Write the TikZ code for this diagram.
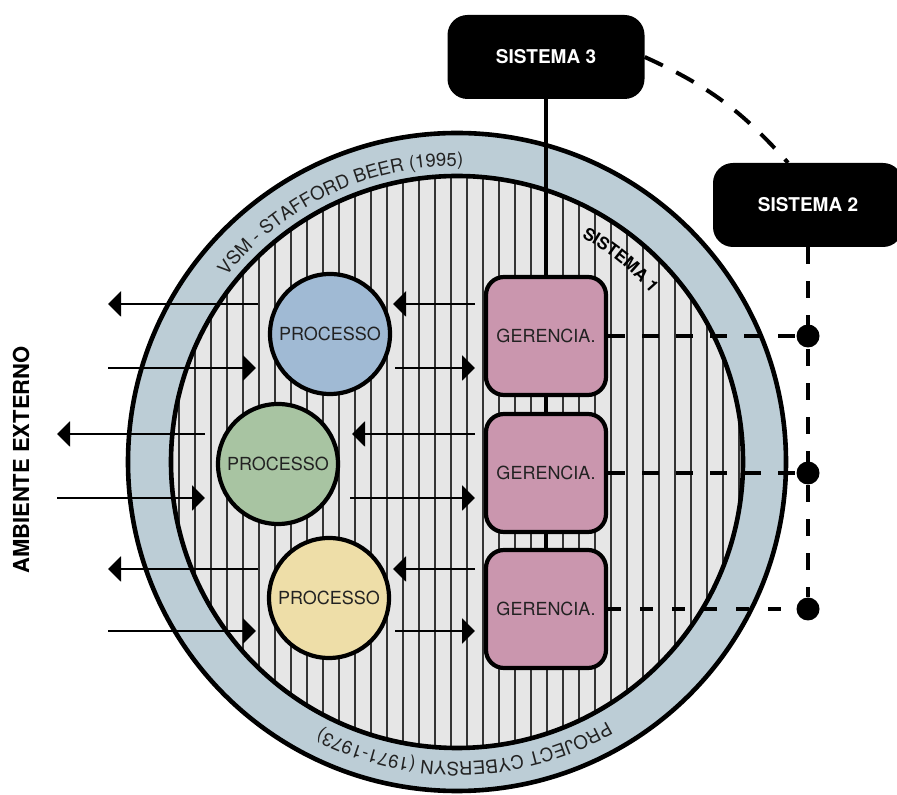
\documentclass[tikz,border=0pt]{standalone}
\usepackage{fontspec}
\setmainfont{TeX Gyre Heros}
\usetikzlibrary{arrows.meta,decorations.text}
\definecolor{ringblue}{RGB}{188,205,214}
\definecolor{field}{RGB}{230,230,230}
\definecolor{hatchgray}{RGB}{52,52,52}
\definecolor{procblue}{RGB}{160,186,212}
\definecolor{procgreen}{RGB}{168,196,162}
\definecolor{procyellow}{RGB}{238,222,168}
\definecolor{gerpink}{RGB}{202,150,174}
\definecolor{textgray}{RGB}{34,34,34}
\tikzset{
  proc/.style={circle, draw=black, fill=#1, line width=4.2pt, minimum size=120pt, inner sep=0pt,
    text=textgray, font=\fontsize{18}{18}\selectfont},
  ger/.style={draw=black, fill=gerpink, line width=4.2pt, rounded corners=18pt, inner sep=0pt,
    minimum width=120pt, minimum height=118pt, text=textgray, font=\fontsize{18}{18}\selectfont},
  sys/.style={fill=black, rounded corners=20pt, minimum width=#1, minimum height=84pt,
    text=white, font=\bfseries\fontsize{19}{19}\selectfont},
  tapdot/.style={circle, fill=black, minimum size=23pt, inner sep=0pt},
  arrow/.style={-{Triangle[length=13pt,width=25pt]}, line width=2.2pt},
  link/.style={line width=4pt, dash pattern=on 17pt off 17pt},
  hatch/.style={draw=hatchgray, line width=2pt}
}

\begin{document}
\begin{tikzpicture}[x=1pt, y=1pt]
  \useasboundingbox (0,0) rectangle (897,795);
  \coordinate (ctr) at (457,333);
  % ring and hatched field
  \fill[ringblue] (ctr) circle (329);
  \draw[line width=4.6pt] (ctr) circle (329);
  \fill[field] (ctr) circle (286);
  \begin{scope}
    \clip (ctr) circle (286);
    \foreach \x in {178.5,194.5,...,754.5} \draw[hatch] (\x,40) -- (\x,625);
  \end{scope}
  \draw[line width=4.6pt] (ctr) circle (286);
  % texts round the ring
  \path[decorate, decoration={text along path, text align=center,
    text={|\color{textgray}\fontsize{18.5}{18.5}\selectfont|VSM - STAFFORD BEER (1995)}}]
    ([shift={(150:296)}]ctr) arc[start angle=150, end angle=80, radius=296];
  \path[decorate, decoration={text along path, text align=center,
    text={|\color{textgray}\fontsize{18.5}{18.5}\selectfont|PROJECT CYBERSYN (1971-1973)}}]
    ([shift={(-50:300)}]ctr) arc[start angle=-50, end angle=-127, radius=300];
  \path[decorate, decoration={text along path, text align=center,
    text={|\bfseries\fontsize{17}{17}\selectfont|SISTEMA 1}}]
    ([shift={(76:257)}]ctr) arc[start angle=76, end angle=26, radius=257];

  \node[proc=procblue] (p1) at (330,461) {PROCESSO};
  \node[proc=procgreen] (p2) at (278,331) {PROCESSO};
  \node[proc=procyellow] (p3) at (329,197) {PROCESSO};
  \node[sys=197pt] (s3) at (546,738) {SISTEMA 3};
  \node[sys=190pt] (s2) at (808,590) {SISTEMA 2};
  \node[rotate=90, font=\bfseries\fontsize{22}{22}\selectfont] (amb) at (21,335) {AMBIENTE EXTERNO};

  \draw[line width=4pt] (s3.south) -- (546,520);
  \node[ger] (g1) at (546,459) {GERENCIA.};
  \node[ger] (g2) at (546,322) {GERENCIA.};
  \node[ger] (g3) at (546,186) {GERENCIA.};
  \draw[line width=4pt] (g1.south) -- (g2.north);
  \draw[line width=4pt] (g2.south) -- (g3.north);

  \node[tapdot] (d1) at (g1 -| s2) {};
  \node[tapdot] (d2) at (g2 -| s2) {};
  \node[tapdot] (d3) at (g3 -| s2) {};
  \draw[link] (s2.south) -- (d3);
  \draw[link] (g1.east) -- (d1);
  \draw[link] (g2.east) -- (d2);
  \draw[link, dash pattern=on 13pt off 19pt] (g3.east) -- (d3);
  \draw[link, dash pattern=on 20pt off 15pt] (s3.east) to[bend left=12] ([xshift=-20pt]s2.north);

  % flows to and from the environment
  \draw[arrow] ([shift={(-72,30)}]p1.center) -- ++(-150,0);
  \draw[arrow] ([shift={(-222,-34)}]p1.center) -- ++(148,0);
  \draw[arrow] ([shift={(-73,30)}]p2.center) -- ++(-148,0);
  \draw[arrow] ([shift={(-221,-34)}]p2.center) -- ++(148,0);
  \draw[arrow] ([shift={(-71,29)}]p3.center) -- ++(-150,0);
  \draw[arrow] ([shift={(-221,-33)}]p3.center) -- ++(148,0);
  % flows to and from management
  \draw[arrow] ([shift={(145,30)}]p1.center) -- ++(-82,0);
  \draw[arrow] ([shift={(65,-34)}]p1.center) -- ++(80,0);
  \draw[arrow] ([shift={(197,30)}]p2.center) -- ++(-123,0);
  \draw[arrow] ([shift={(72,-34)}]p2.center) -- ++(125,0);
  \draw[arrow] ([shift={(146,29)}]p3.center) -- ++(-82,0);
  \draw[arrow] ([shift={(66,-33)}]p3.center) -- ++(80,0);
\end{tikzpicture}
\end{document}
